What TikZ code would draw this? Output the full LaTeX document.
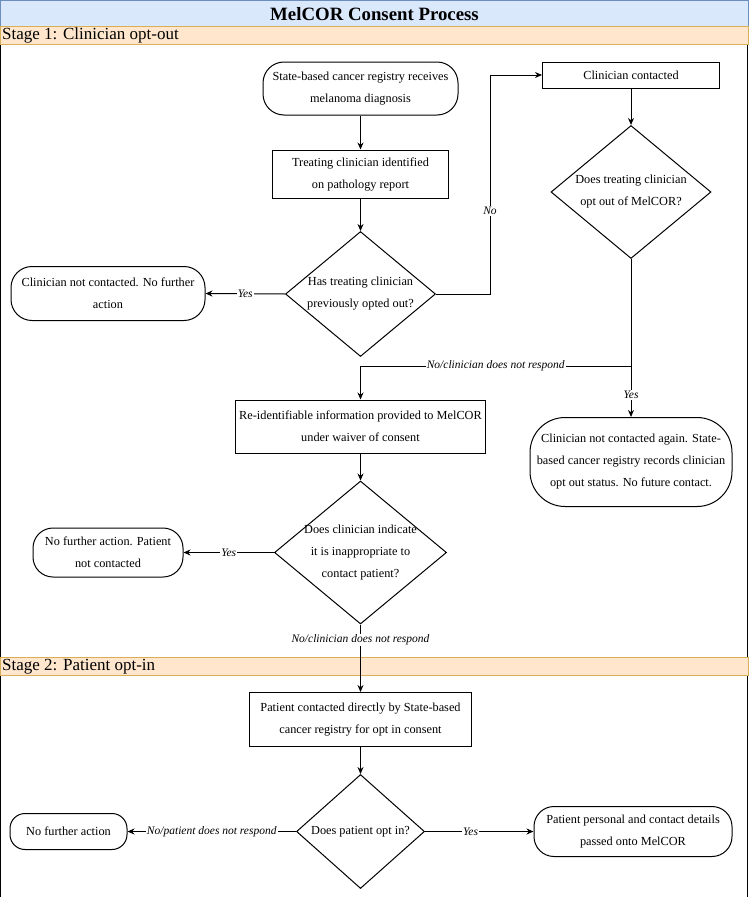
\documentclass[tikz,border=0pt]{standalone}
\usepackage{fontspec}
\setmainfont{Liberation Serif}
\usetikzlibrary{shapes.geometric,arrows.meta}
\newcommand{\bodyfont}{\fontsize{12.3}{22}\selectfont}
\newcommand{\lblfont}{\fontsize{11.5}{14}\selectfont\itshape}
\definecolor{titlefill}{HTML}{DAE8FC}
\definecolor{titleline}{HTML}{6C8EBF}
\definecolor{stagefill}{HTML}{FFE6CC}
\definecolor{stageline}{HTML}{D9AE56}
\tikzset{
  box/.style={draw, line width=1pt, font=\bodyfont, align=center, inner sep=2pt, rectangle},
  term/.style={box},
  dia/.style={draw, diamond, line width=1pt, inner sep=0pt},
  diatext/.style={font=\bodyfont, align=center, inner sep=0pt},
  lbl/.style={font=\lblfont, fill=white, inner sep=1pt},
  arr/.style={-{Stealth[length=7pt,width=6pt]}, line width=1pt},
  bartext/.style={font=\fontsize{17}{20}\selectfont, anchor=west, inner sep=0pt}
}
\begin{document}
\begin{tikzpicture}[x=1pt,y=-1pt]
\useasboundingbox (0,0) rectangle (749,897);
% frame
\draw[line width=1pt] (0.8,26) -- (0.8,898) (747.7,26) -- (747.7,898);
% title bar
\draw[fill=titlefill, draw=titleline, line width=1pt] (0.5,0.5) rectangle (748.5,26);
\node[font=\fontsize{18.8}{20}\selectfont\bfseries, inner sep=0pt] (title) at (374.5,14) {MelCOR Consent Process};
% stage bars
\draw[fill=stagefill, draw=stageline, line width=1pt] (0.5,26) rectangle (748.5,44);
\node[bartext] (s1) at (2,35.5) {Stage 1: Clinician opt-out};
\draw[fill=stagefill, draw=stageline, line width=1pt] (0.5,657) rectangle (748.5,675);
\node[bartext] (s2) at (2,666.5) {Stage 2: Patient opt-in};

% nodes
\node[term, rounded corners=21pt, minimum width=195pt, minimum height=53pt] (t1) at (360.5,88.5) {State-based cancer registry receives\\melanoma diagnosis};
\node[box, minimum width=176pt, minimum height=48pt] (b2) at (360.5,174) {Treating clinician identified\\on pathology report};
\node[dia, minimum width=150pt, minimum height=125pt] (d3) at (360.5,294) {};
\node[diatext] (d3t) at (d3.center) {Has treating clinician\\previously opted out?};
\node[term, rounded corners=21pt, minimum width=194pt, minimum height=54pt] (t4) at (108,293.5) {Clinician not contacted. No further\\action};
\node[box, minimum width=177pt, minimum height=26pt] (b5) at (631,75) {Clinician contacted};
\node[dia, minimum width=160pt, minimum height=133pt] (d6) at (631,192) {};
\node[diatext] (d6t) at (d6.center) {Does treating clinician\\opt out of MelCOR?};
\node[term, rounded corners=35pt, minimum width=202pt, minimum height=89pt] (t7) at (631,462) {Clinician not contacted again. State-\\based cancer registry records clinician\\opt out status. No future contact.};
\node[box, minimum width=250pt, minimum height=53pt] (b8) at (360.5,426.5) {Re-identifiable information provided to MelCOR\\under waiver of consent};
\node[dia, minimum width=172pt, minimum height=143pt] (d9) at (360.5,552.5) {};
\node[diatext] (d9t) at (d9.center) {Does clinician indicate\\it is inappropriate to\\contact patient?};
\node[term, rounded corners=20pt, minimum width=150pt, minimum height=49pt] (t10) at (108,552.5) {No further action. Patient\\not contacted};
\node[box, minimum width=222pt, minimum height=54pt] (b11) at (360.5,719.5) {Patient contacted directly by State-based\\cancer registry for opt in consent};
\node[dia, minimum width=128pt, minimum height=114pt] (d12) at (360.5,831.5) {};
\node[diatext] (d12t) at (d12.center) {Does patient opt in?};
\node[term, rounded corners=15pt, minimum width=117pt, minimum height=36pt] (t13) at (68.5,831.5) {No further action};
\node[term, rounded corners=20pt, minimum width=198pt, minimum height=50pt] (t14) at (633,831.5) {Patient personal and contact details\\passed onto MelCOR};

% connectors
\coordinate (nocorner) at (490,294);
\coordinate (junc) at (631,366);
\draw[arr] (t1) -- (b2);
\draw[arr] (b2) -- (d3);
\draw[arr] (d3.west) -- node[lbl]{Yes} (t4.east);
\draw[arr] (d3.east) -- (nocorner) |- node[lbl, pos=0.19]{No} (b5.west);
\draw[arr] (b5) -- (d6);
\draw[arr] (d6.south) -- node[lbl, pos=0.86]{Yes} (t7.north);
\draw[arr] (d6.south) -- (junc) -| node[lbl, pos=0.25]{No/clinician does not respond} (b8.north);
\draw[arr] (b8) -- (d9);
\draw[arr] (d9.west) -- node[lbl]{Yes} (t10.east);
\draw[arr] (d9.south) -- node[lbl, pos=0.23]{No/clinician does not respond} (b11.north);
\draw[arr] (b11) -- (d12);
\draw[arr] (d12.west) -- node[lbl]{No/patient does not respond} (t13.east);
\draw[arr] (d12.east) -- node[lbl, pos=0.42]{Yes} (t14.west);
\end{tikzpicture}
\end{document}
